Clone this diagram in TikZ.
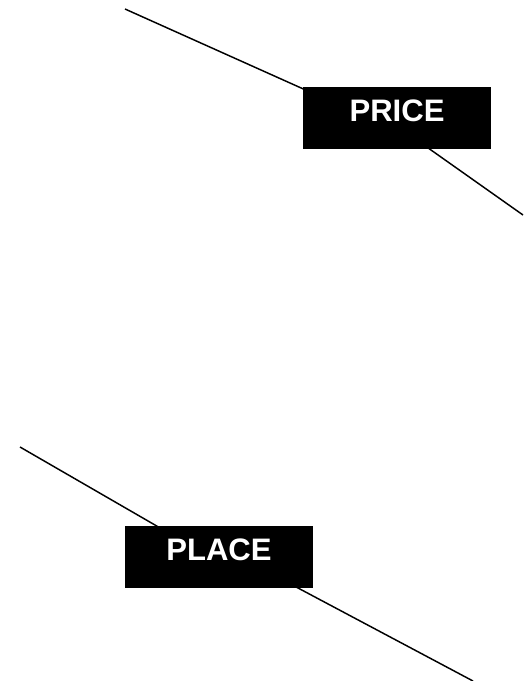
\documentclass[tikz,border=0pt]{standalone}
\usepackage{fontspec}
\setmainfont{Liberation Sans}
\usetikzlibrary{positioning}

\begin{document}
\begin{tikzpicture}[x=0.75pt,y=-0.75pt,
  tag/.style={rectangle,fill=black,text=white,font=\bfseries\fontsize{23.3pt}{28pt}\selectfont,
    minimum width=141pt,minimum height=46.5pt,text depth=10.5pt,inner sep=0pt},
  wire/.style={line width=1.1pt}]
\useasboundingbox (0,0) rectangle (524,681);
\coordinate (pr0) at (125,9);
\coordinate (pr1) at (397,131);
\coordinate (pr2) at (397,126);
\coordinate (pr3) at (523,215);
\coordinate (pl0) at (20,447);
\coordinate (pl1) at (219,562);
\coordinate (pl2) at (219,546);
\coordinate (pl3) at (473,681);
\draw[wire] (pr0) -- (pr1);
\draw[wire] (pr2) -- (pr3);
\draw[wire] (pl0) -- (pl1);
\draw[wire] (pl2) -- (pl3);
\node[tag] (price) at (397,118) {PRICE};
\node[tag] (place) at (219,557) {PLACE};
\end{tikzpicture}
\end{document}
